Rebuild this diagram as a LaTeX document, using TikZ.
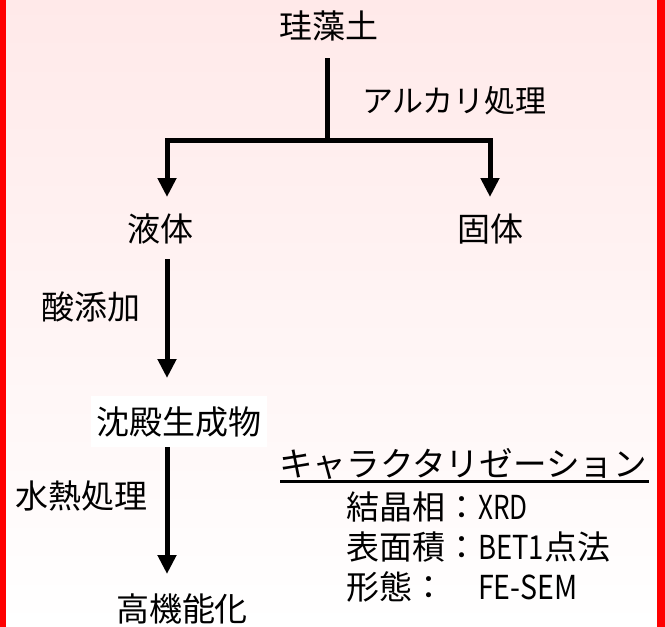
\documentclass[tikz,border=0pt]{standalone}
\usepackage{fontspec}
\setmainfont{Noto Sans CJK JP}
\usetikzlibrary{arrows.meta}
\newcommand{\hwlatin}[2]{\resizebox{#1}{\height}{#2}}
\begin{document}
\begin{tikzpicture}[x=1pt,y=-1pt,
  lbl/.style={inner sep=0pt, font=\fontsize{33}{40}\selectfont, text height=29pt, text depth=4pt},
  small/.style={lbl, font=\fontsize{31}{38}\selectfont, text height=27pt, text depth=4pt},
  wide/.style={lbl, font=\fontsize{33.6}{40}\selectfont},
  ln/.style={line width=5pt, line join=miter, draw=black},
  arr/.style={ln, -{Triangle[width=18pt,length=19pt]}},
  arrboth/.style={ln, {Triangle[width=18pt,length=19pt]}-{Triangle[width=18pt,length=19pt]}},
  border/.style={fill=red, draw=none}]
\shade[top color={rgb,255:red,255;green,233;blue,233}, bottom color=white, draw=none] (0,0) rectangle (665,627);
\useasboundingbox (0,0) rectangle (665,627);
\fill[border] (0,0) rectangle (5.5,627);
\fill[border] (657,0) rectangle (665,627);

% nodes
\node[lbl] (top) at (329,26) {珪藻土};
\node[small, anchor=west] (alk) at (362,101) {アルカリ処理};
\node[lbl] (liq) at (160,229) {液体};
\node[lbl] (sol) at (490,229) {固体};
\node[lbl, anchor=west] (acid) at (41,307) {酸添加};
\node[lbl, fill=white, minimum width=176pt, minimum height=51pt] (ppt) at (179,421.5) {沈殿生成物};
\node[lbl, anchor=west] (hyd) at (15,496) {水熱処理};
\node[lbl] (hf) at (182,609) {高機能化};
\node[wide, anchor=west] (char) at (279,464) {キャラクタリゼーション};
\node[lbl, anchor=west] (c1) at (346,507) {結晶相：\hwlatin{49.5pt}{XRD}};
\node[lbl, anchor=west] (c2) at (346,547) {表面積：\hwlatin{66pt}{BET1}点法};
\node[lbl, anchor=west] (c3) at (346,587) {形態：　\hwlatin{99pt}{FE-SEM}};

% connector points
\coordinate (t0) at (327,58);
\coordinate (tj) at (327,140);
\coordinate (lt) at (167,197);
\coordinate (lc) at (167,140);
\coordinate (rc) at (490,140);
\coordinate (rt) at (490,197);
\coordinate (a1s) at (167,259);
\coordinate (a1e) at (167,378);
\coordinate (a2e) at (167,574);
\coordinate (ul1) at (280,481.5);
\coordinate (ul2) at (649,481.5);

% connectors
\draw[ln] (t0) -- (tj);
\draw[arrboth] (lt) -- (lc) -- (rc) -- (rt);
\draw[arr] (a1s) -- (a1e);
\draw[arr] (ppt.south -| a1s) -- (a2e);
\draw[line width=3pt] (ul1) -- (ul2);
\end{tikzpicture}
\end{document}
